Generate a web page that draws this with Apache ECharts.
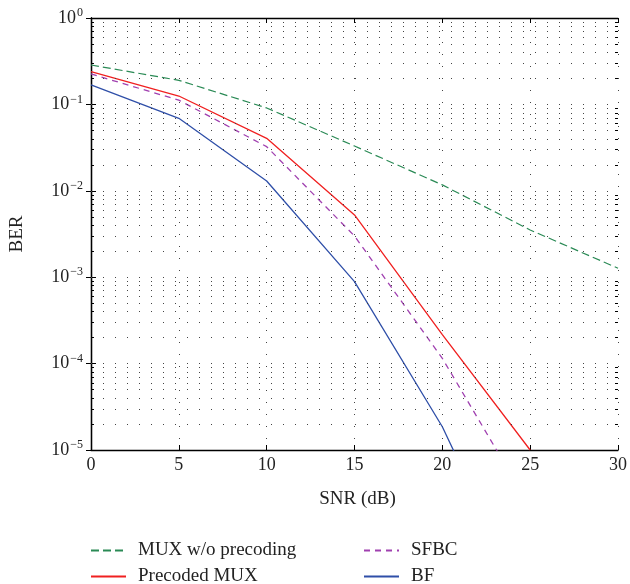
<!DOCTYPE html>
<html><head><meta charset="utf-8">
<script src="https://cdn.jsdelivr.net/npm/echarts@6/dist/echarts.min.js"></script>
<style>html,body{margin:0;padding:0;background:#fff}#c{width:630px;height:584px}</style>
</head><body><div id="c"></div>
<script>
const snr = [0, 5, 10, 15, 20, 25, 30];
const muxNoPre = [0.286, 0.19, 0.091, 0.033, 0.0117, 0.00352, 0.00127];
const precodedMux = [0.239, 0.125, 0.0405, 0.00525, 0.000216, 0.00001];
const sfbc = [0.225, 0.112, 0.0324, 0.003, 0.000115, 0.0000022];
const bf = [0.168, 0.069, 0.013, 0.00089, 0.0000186, 0.00000013];
const xTicks = [0, 5, 10, 15, 20, 25, 30];
const decades = [-5, -4, -3, -2, -1, 0];
const seriesNames = ['MUX w/o precoding', 'SFBC', 'Precoded MUX', 'BF'];

const gridValues = [];
const minorValues = [];
decades.slice(0, -1).forEach(d => {
  for (let m = 1; m <= 9; m++) {
    gridValues.push(m * Math.pow(10, d));
    if (m > 1) minorValues.push(m * Math.pow(10, d));
  }
});

const FONT = 'Liberation Serif';
const TXT = '#222';
const gridDot = {color: '#444', width: 1, type: [1, 11]};

function pairs(ys) { return ys.map((v, i) => [snr[i], v]); }

function legendAt(name, left, top) {
  return {
    orient: 'horizontal', left: left, top: top, itemWidth: 35, itemHeight: 14,
    data: [name], selectedMode: false,
    itemStyle: {color: 'transparent', borderColor: 'transparent', borderWidth: 0},
    textStyle: {fontFamily: FONT, fontSize: 19, color: TXT, padding: [0, 0, 0, 7]}
  };
}

const chart = echarts.init(document.getElementById('c'), null, {renderer: 'canvas'});
chart.setOption({
  animation: false,
  grid: {left: 89, right: 12, top: 18, bottom: 134, containLabel: false},
  xAxis: [{
    type: 'value', min: 0, max: 30, interval: 5, position: 'bottom',
    name: 'SNR (dB)', nameLocation: 'middle', nameGap: 40,
    nameTextStyle: {fontFamily: FONT, fontSize: 19, color: TXT, padding: [0, 0, 0, 6]},
    axisLine: {show: true, lineStyle: {color: '#000', width: 1.3}},
    axisTick: {show: true, inside: true, length: 5, lineStyle: {color: '#000'}},
    axisLabel: {fontFamily: FONT, fontSize: 18, color: TXT, margin: 6},
    splitLine: {show: true, lineStyle: gridDot}
  }, {
    type: 'value', min: 0, max: 30, interval: 5, position: 'top',
    axisLine: {show: true, lineStyle: {color: '#000', width: 1.3}},
    axisTick: {show: true, inside: true, length: 5, lineStyle: {color: '#000'}},
    axisLabel: {show: false}, splitLine: {show: false}
  }],
  yAxis: [{
    type: 'log', logBase: 10, min: 1e-5, max: 1, position: 'left',
    name: 'BER', nameLocation: 'middle', nameGap: 64, nameRotate: 90,
    nameTextStyle: {fontFamily: FONT, fontSize: 19, color: TXT},
    axisLine: {show: true, lineStyle: {color: '#000', width: 1.3}},
    axisTick: {show: true, inside: true, length: 5, lineStyle: {color: '#000'}},
    axisLabel: {
      margin: 8,
      formatter: v => '{b|10}{e|' + String(Math.round(Math.log10(v))).replace('-', '\u2212') + '}',
      rich: {
        b: {fontFamily: FONT, fontSize: 18, color: TXT, verticalAlign: 'middle', lineHeight: 22},
        e: {fontFamily: FONT, fontSize: 12, color: TXT, verticalAlign: 'top', lineHeight: 22, padding: [0, 0, 0, 1]}
      }
    },
    splitLine: {show: false}
  }, {
    type: 'log', logBase: 10, min: 1e-5, max: 1, position: 'right',
    axisLine: {show: true, lineStyle: {color: '#000', width: 1.3}},
    axisTick: {show: true, inside: true, length: 5, lineStyle: {color: '#000'}},
    axisLabel: {show: false}, splitLine: {show: false}
  }],
  legend: [
    legendAt(seriesNames[0], 85, 536),
    legendAt(seriesNames[2], 85, 562),
    legendAt(seriesNames[1], 358, 536),
    legendAt(seriesNames[3], 358, 562)
  ],
  series: [
    {name: '_grid', type: 'line', data: [], silent: true,
     markLine: {silent: true, symbol: 'none', label: {show: false}, emphasis: {disabled: true},
       lineStyle: gridDot,
       data: gridValues.slice(1).map(v => [{coord: [0, v]}, {coord: [30, v]}])}},
    {name: '_minorTicks', type: 'line', data: [], silent: true,
     markLine: {silent: true, symbol: 'none', label: {show: false}, emphasis: {disabled: true},
       lineStyle: {color: '#000', width: 1, type: 'solid'},
       data: minorValues.map(v => [{coord: [0, v]}, {coord: [0.17, v]}])
         .concat(minorValues.map(v => [{coord: [29.83, v]}, {coord: [30, v]}]))}},
    {name: seriesNames[0], type: 'line', data: pairs(muxNoPre), symbol: 'none',
     lineStyle: {color: '#2a8a55', width: 1.2, type: [8, 4]}, itemStyle: {color: '#2a8a55'}},
    {name: seriesNames[1], type: 'line', data: pairs(sfbc), symbol: 'none',
     lineStyle: {color: '#a040b0', width: 1.3, type: [6, 5]}, itemStyle: {color: '#a040b0'}},
    {name: seriesNames[2], type: 'line', data: pairs(precodedMux), symbol: 'none',
     lineStyle: {color: '#f02020', width: 1.3}, itemStyle: {color: '#f02020'}},
    {name: seriesNames[3], type: 'line', data: pairs(bf), symbol: 'none',
     lineStyle: {color: '#2f4fa8', width: 1.3}, itemStyle: {color: '#2f4fa8'}}
  ]
});
</script></body></html>
